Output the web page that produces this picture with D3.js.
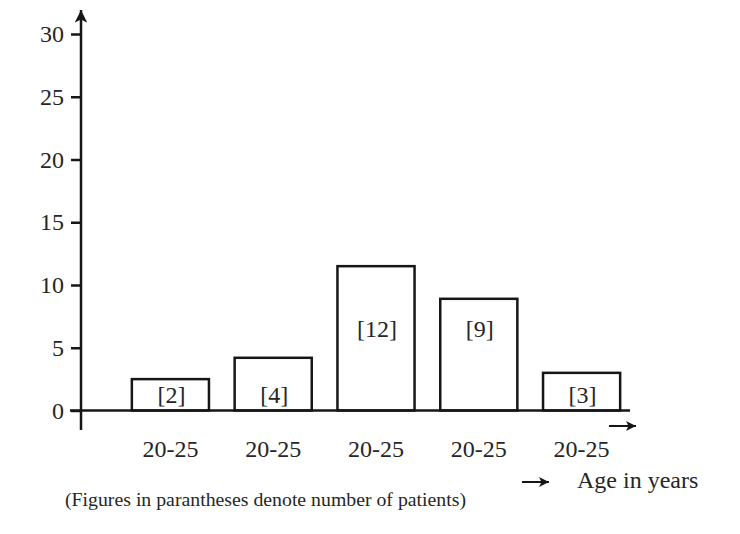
<!DOCTYPE html>
<html>
<head>
<meta charset="utf-8">
<script src="https://cdn.jsdelivr.net/npm/d3@7"></script>
<style>
  html, body { margin: 0; padding: 0; background: #fff; }
  svg { display: block; }
  text { font-family: "Liberation Serif", "Times New Roman", serif; fill: #262626; }
</style>
</head>
<body>
<svg id="chart" width="740" height="534"></svg>
<script>
// ---- data ----
const categories = ["20-25", "20-25", "20-25", "20-25", "20-25"];
const values = [2.5, 4.2, 11.5, 8.9, 3.0];
const patients = ["[2]", "[4]", "[12]", "[9]", "[3]"];
const yTicks = [0, 5, 10, 15, 20, 25, 30];
const xTitle = "Age in years";
const caption = "(Figures in parantheses denote number of patients)";

// ---- layout ----
const svg = d3.select("#chart");
const axisX = 81, baseY = 410.5, topY = 34;
const ink = "#161616";
const fs = 24;

const y = d3.scaleLinear().domain([0, 30]).range([baseY, topY]);
const x = d3.scaleBand()
  .domain(d3.range(categories.length))
  .range([119, 633])
  .paddingInner(0.25)
  .paddingOuter(0.125);

// arrow marker
const defs = svg.append("defs");
defs.append("marker")
  .attr("id", "arr")
  .attr("viewBox", "0 0 10 10")
  .attr("refX", 10).attr("refY", 5)
  .attr("markerWidth", 5).attr("markerHeight", 5)
  .attr("markerUnits", "strokeWidth")
  .attr("orient", "auto")
  .append("path").attr("d", "M0,0 L10,5 L0,10 L2.5,5 Z").attr("fill", ink);

// bars
svg.append("g").selectAll("rect")
  .data(values)
  .join("rect")
  .attr("x", (d, i) => x(i))
  .attr("y", d => y(d))
  .attr("width", x.bandwidth())
  .attr("height", d => baseY - y(d))
  .attr("fill", "#fff")
  .attr("stroke", ink)
  .attr("stroke-width", 2.5);

// bar labels
svg.append("g").selectAll("text")
  .data(values)
  .join("text")
  .attr("x", (d, i) => x(i) + x.bandwidth() / 2 + 1)
  .attr("y", d => (d < 5 ? y(1.3) : y(6.5)))
  .attr("dy", "0.35em")
  .attr("text-anchor", "middle")
  .attr("font-size", fs)
  .text((d, i) => patients[i]);

// y axis
const yAxis = d3.axisLeft(y).tickValues(yTicks).tickSize(10).tickPadding(7).tickFormat(d3.format("d"));
const gy = svg.append("g").attr("transform", `translate(${axisX},0)`).call(yAxis);
gy.select(".domain").remove();
gy.selectAll(".tick line").attr("stroke", ink).attr("stroke-width", 2.5);
gy.selectAll(".tick text")
  .attr("font-size", fs)
  .attr("fill", "#262626");

svg.append("line")
  .attr("x1", axisX).attr("x2", axisX)
  .attr("y1", 430).attr("y2", 10)
  .attr("stroke", ink).attr("stroke-width", 2.5)
  .attr("marker-end", "url(#arr)");

// x baseline
svg.append("line")
  .attr("x1", 70).attr("x2", 630)
  .attr("y1", baseY).attr("y2", baseY)
  .attr("stroke", ink).attr("stroke-width", 2.5);

// x axis category labels
const xAxis = d3.axisBottom(x).tickSize(0).tickPadding(0).tickFormat(i => categories[i]);
const gx = svg.append("g").attr("transform", `translate(0,${baseY})`).call(xAxis);
gx.select(".domain").remove();
gx.selectAll(".tick text")
  .attr("y", 46)
  .attr("dy", 0)
  .attr("font-size", fs)
  .attr("fill", "#262626");

// arrow after x-axis
svg.append("line")
  .attr("x1", 609).attr("x2", 636)
  .attr("y1", 426).attr("y2", 426)
  .attr("stroke", ink).attr("stroke-width", 2)
  .attr("marker-end", "url(#arr)");

// x title arrow and text
svg.append("line")
  .attr("x1", 522).attr("x2", 549)
  .attr("y1", 482).attr("y2", 482)
  .attr("stroke", ink).attr("stroke-width", 2)
  .attr("marker-end", "url(#arr)");
svg.append("text")
  .attr("x", 577).attr("y", 488)
  .attr("font-size", fs)
  .text(xTitle);

// caption
svg.append("text")
  .attr("x", 65).attr("y", 506)
  .attr("font-size", 19.8)
  .text(caption);
</script>
</body>
</html>
